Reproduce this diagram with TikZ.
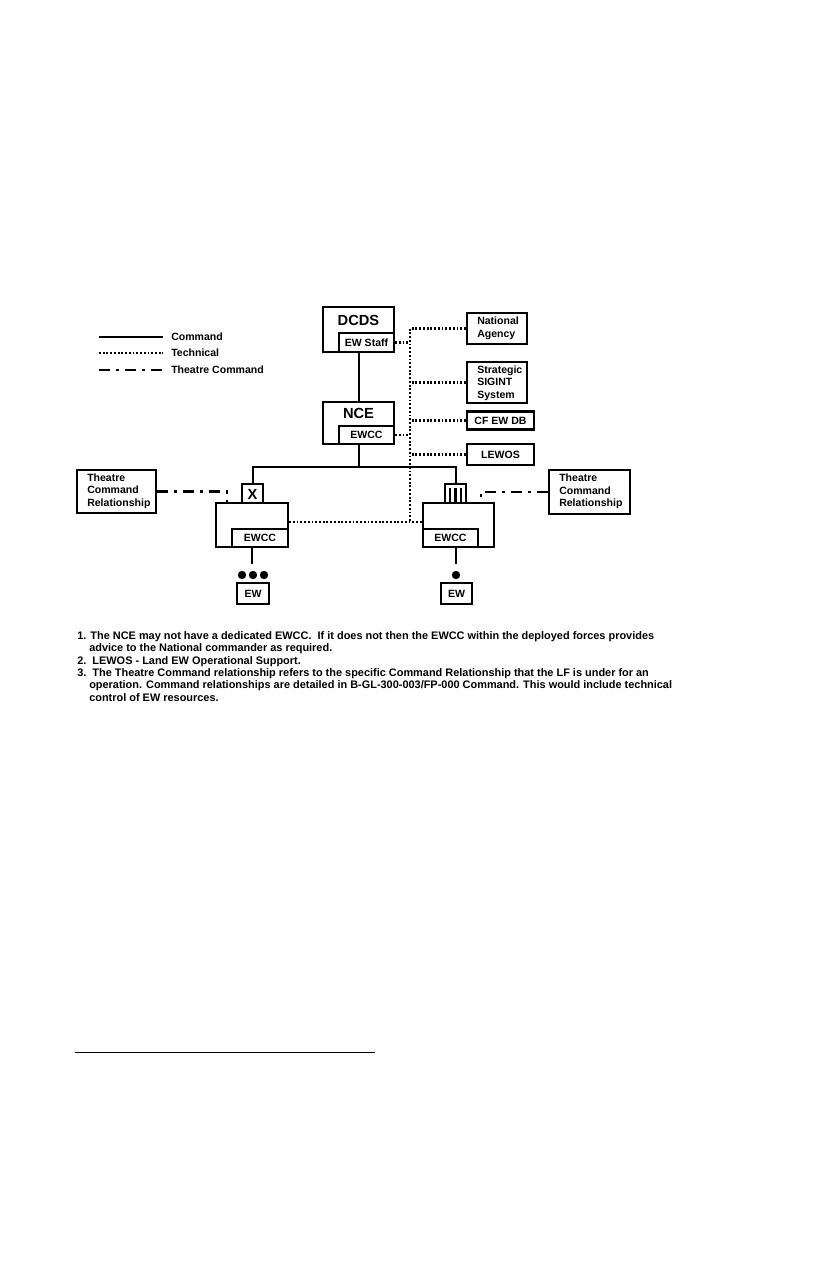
\documentclass[tikz,border=0pt]{standalone}
\usepackage{fontspec}
\setmainfont{Liberation Sans}
\begin{document}
\begin{tikzpicture}[x=0.75pt,y=-0.75pt,
  box/.style={draw, line width=1.7pt, inner sep=0pt, fill=white},
  lbl/.style={font=\fontsize{7.9}{9.4}\selectfont\bfseries, align=left, inner sep=0pt},
  bigl/.style={font=\fontsize{11}{13}\selectfont\bfseries, inner sep=0pt},
  cmd/.style={line width=1.5pt},
  tech/.style={line width=1.9pt, dash pattern=on 1.4pt off 1.4pt},
  theatre/.style={line width=1.8pt, dash pattern=on 8.5pt off 4.5pt on 2pt off 4.5pt},
  fn/.style={font=\fontsize{8.2}{9}\selectfont\bfseries, anchor=base west, inner sep=0pt},
  blob/.style={circle, fill=black, inner sep=0pt, minimum size=6.3pt}]
\fill[white] (0,0) rectangle (825,1275);
\path[use as bounding box] (0,0) rectangle (825,1275);

% legend
\coordinate (lgA1) at (99,337); \coordinate (lgB1) at (163,337);
\coordinate (lgA2) at (99,353); \coordinate (lgB2) at (163,353);
\coordinate (lgA3) at (99,370); \coordinate (lgB3) at (163,370);
\draw[cmd] (lgA1) -- (lgB1);
\draw[tech] (lgA2) -- (lgB2);
\draw[theatre] (lgA3) -- (lgB3);
\node[lbl, anchor=west] (lg1) at (171,337) {Command};
\node[lbl, anchor=west] (lg2) at (171,353) {Technical};
\node[lbl, anchor=west] (lg3) at (171,370) {Theatre Command};

% DCDS and NCE
\node[box, minimum width=53.25pt, minimum height=33.75pt] (dcds) at (358.5,329.5) {};
\node[bigl] (dcdst) at (358.5,320.5) {DCDS};
\node[box, minimum width=41.25pt, minimum height=14.25pt, lbl] (ewstaff) at (366.5,342.5) {EW Staff};
\node[box, minimum width=53.25pt, minimum height=31.5pt] (nce) at (358.5,423) {};
\node[bigl] (ncet) at (358.5,413.5) {NCE};
\node[box, minimum width=41.25pt, minimum height=13.5pt, lbl] (ewccn) at (366.5,435) {EWCC};

% right column
\node[box, minimum width=45pt, minimum height=23.25pt] (natag) at (497,328.5) {};
\node[lbl, anchor=west] (natagt) at (477,328.5) {National\\Agency};
\node[box, minimum width=45pt, minimum height=30.75pt] (sigint) at (497,382.5) {};
\node[lbl, anchor=west] (sigintt) at (477,383) {Strategic\\SIGINT\\System};
\node[box, minimum width=50.25pt, minimum height=13.5pt, lbl] (cfew) at (500.5,420.5) {CF EW DB};
\node[box, minimum width=50.25pt, minimum height=15.75pt, lbl] (lewos) at (500.5,454.5) {LEWOS};

% theatre command relationship boxes
\node[box, minimum width=59.25pt, minimum height=32.25pt] (tcrl) at (116.5,491.5) {};
\node[lbl, anchor=west] (tcrlt) at (87,491) {Theatre\\Command\\Relationship};
\node[box, minimum width=60.75pt, minimum height=33pt] (tcrr) at (589.5,492) {};
\node[lbl, anchor=west] (tcrrt) at (559,491.5) {Theatre\\Command\\Relationship};

% units
\node[box, minimum width=54pt, minimum height=33pt] (lunit) at (252,525) {};
\node[box, minimum width=42pt, minimum height=13.5pt, lbl] (lewcc) at (260,538) {EWCC};
\node[box, minimum width=15.75pt, minimum height=14.25pt] (xbox) at (252.5,493.5) {};
\node[bigl] (xt) at (252.5,494.5) {X};
\node[box, minimum width=53.25pt, minimum height=33pt] (runit) at (458.5,525) {};
\node[box, minimum width=41.25pt, minimum height=13.5pt, lbl] (rewcc) at (450.5,538) {EWCC};
\node[box, minimum width=15.75pt, minimum height=14.25pt] (iiibox) at (455.5,493.5) {};
\draw[line width=1.6pt] (450,488) -- (450,503) (455.5,488) -- (455.5,503) (461,488) -- (461,503);

% echelon dots and EW boxes
\node[blob] (dl1) at (242,575) {};
\node[blob] (dl2) at (253,575) {};
\node[blob] (dl3) at (264,575) {};
\node[blob] (dr1) at (456,575) {};
\node[box, minimum width=24pt, minimum height=15.75pt, lbl] (ewl) at (253,593.5) {EW};
\node[box, minimum width=23.25pt, minimum height=15.75pt, lbl] (ewr) at (456.5,593.5) {EW};

% command connectors
\coordinate (bus) at (358.5,467);
\draw[cmd] (dcds.south) -- (nce.north);
\draw[cmd] (nce.south) -- (bus);
\draw[cmd] (xbox.north) |- (bus) -| (iiibox.north);
\coordinate (ldrop) at (252,564);
\coordinate (rdrop) at (456,564);
\draw[cmd] (lunit.south) -- (ldrop);
\draw[cmd] (rdrop |- runit.south) -- (rdrop);

% technical connectors
\coordinate (bv) at (410,522);
\draw[tech] (natag.west) -| (bv);
\draw[tech] (sigint.west) -- (sigint.west -| bv);
\draw[tech] (cfew.west) -- (cfew.west -| bv);
\draw[tech] (lewos.west) -- (lewos.west -| bv);
\draw[tech] (ewstaff.east) -- (ewstaff.east -| bv);
\draw[tech] (ewccn.east) -- (ewccn.east -| bv);
\draw[tech] (bv -| lunit.east) -- (bv -| runit.west);

% theatre command connectors
\coordinate (lt) at (227,503);
\coordinate (rt) at (481,503);
\draw[theatre] (tcrl.east) -| (lt);
\draw[theatre] (tcrr.west) -| (rt);

% footnotes
\node[fn] (fn1) at (77,639) {1. The NCE may not have a dedicated EWCC.\ \ If it does not then the EWCC within the deployed forces provides};
\node[fn] (fn2) at (89,651.5) {advice to the National commander as required.};
\node[fn] (fn3) at (77,664) {2.\ \ LEWOS - Land EW Operational Support.};
\node[fn] (fn4) at (77,676) {3.\ \ The Theatre Command relationship refers to the specific Command Relationship that the LF is under for an};
\node[fn] (fn5) at (89,688.5) {operation. Command relationships are detailed in B-GL-300-003/FP-000 Command. This would include technical};
\node[fn] (fn6) at (89,701) {control of EW resources.};

% footnote separator
\coordinate (sepA) at (75,1052.5);
\coordinate (sepB) at (375,1052.5);
\draw[line width=0.8pt] (sepA) -- (sepB);
\end{tikzpicture}
\end{document}
